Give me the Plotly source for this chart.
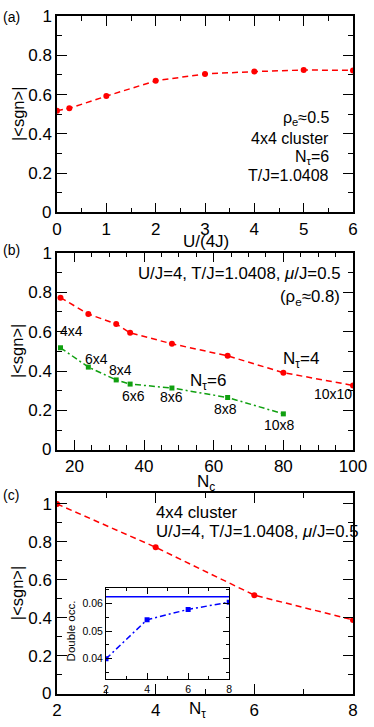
import plotly.graph_objects as go

# Panel (a)
a_x = [0, 0.25, 1, 2, 3, 4, 5, 6]
a_y = [0.518, 0.53, 0.592, 0.67, 0.705, 0.717, 0.725, 0.723]

# Panel (b)
b_nc = [16, 24, 32, 36, 48, 64, 80, 100]
b_red = [0.772, 0.689, 0.638, 0.594, 0.538, 0.477, 0.392, 0.327]
b_nc_green = [16, 24, 32, 36, 48, 64, 80]
b_green = [0.518, 0.42, 0.355, 0.334, 0.314, 0.266, 0.183]
b_labels = ["4x4", "6x4", "8x4", "6x6", "8x6", "8x8", "10x8", "10x10"]
b_label_x = [19.3, 26.3, 33.1, 37.0, 47.8, 63.5, 79.0, 94.2]
b_label_y = [0.603, 0.46, 0.407, 0.274, 0.269, 0.208, 0.128, 0.285]

# Panel (c)
c_nt = [2, 4, 6, 8]
c_sgn = [1.0, 0.772, 0.52, 0.39]
# Inset
ins_nt = [2, 4, 6, 8]
ins_docc = [0.040, 0.0541, 0.0578, 0.0604]
ins_ref = 0.0624

# y tick labels for the |<sgn>| axes (the "0" is drawn separately at the corner)
sgn_tickvals = [0, 0.2, 0.4, 0.6, 0.8, 1]
sgn_ticktext = ["", "0.2", "0.4", "0.6", "0.8", "1"]

RED = "#ff0000"
GREEN = "#10a010"
BLUE = "#0000ff"
FONT = "Liberation Sans, Arial, sans-serif"

L, R, TOP, BOT = 57, 359, 7, 697.5
PW = R - L
PH = BOT - TOP

def px(xp):
    return (xp - L) / PW

def py(yp):
    return (BOT - yp) / PH

fig = go.Figure()

fig.add_trace(go.Scatter(x=a_x, y=a_y, mode="lines+markers", xaxis="x", yaxis="y",
                         line=dict(color=RED, dash="6px,4px", width=1.5),
                         marker=dict(color=RED, size=6, symbol="circle")))
fig.add_trace(go.Scatter(x=b_nc, y=b_red, mode="lines+markers", xaxis="x2", yaxis="y2",
                         line=dict(color=RED, dash="6px,4px", width=1.5),
                         marker=dict(color=RED, size=6, symbol="circle")))
fig.add_trace(go.Scatter(x=b_nc_green, y=b_green, mode="lines+markers", xaxis="x2", yaxis="y2",
                         line=dict(color=GREEN, dash="6px,3px,2px,3px", width=1.5),
                         marker=dict(color=GREEN, size=5, symbol="square")))
fig.add_trace(go.Scatter(x=c_nt, y=c_sgn, mode="lines+markers", xaxis="x3", yaxis="y3",
                         line=dict(color=RED, dash="6px,4px", width=1.5),
                         marker=dict(color=RED, size=6, symbol="circle")))
fig.add_trace(go.Scatter(x=[2, 8], y=[ins_ref, ins_ref], mode="lines", xaxis="x4", yaxis="y4",
                         line=dict(color=BLUE, width=1.5)))
fig.add_trace(go.Scatter(x=ins_nt, y=ins_docc, mode="lines+markers", xaxis="x4", yaxis="y4",
                         line=dict(color=BLUE, dash="6px,3px,2px,3px", width=1.5),
                         marker=dict(color=BLUE, size=5, symbol="square")))

def ax(domain, rng, dtick, minor, anchor, tick0=0, size=17, ticklen=10, mlen=5, lw=1.5):
    return dict(domain=domain, range=rng, anchor=anchor, dtick=dtick, tick0=tick0,
                ticks="inside", ticklen=ticklen, tickwidth=1, tickcolor="black",
                showline=True, linecolor="black", linewidth=lw, mirror="ticks",
                showgrid=False, zeroline=False,
                minor=dict(dtick=minor, tick0=0, ticks="inside", ticklen=mlen,
                           tickcolor="black", showgrid=False),
                tickfont=dict(family=FONT, size=size, color="black"))

def yax(domain, rng, anchor):
    d = ax(domain, rng, 0.2, 0.1, anchor)
    d.update(tickmode="array", tickvals=sgn_tickvals, ticktext=sgn_ticktext)
    return d

ya = [py(207), 1.0]
yb = [py(449), py(248)]
yc = [0.0, py(493.3)]

fig.update_layout(
    width=374, height=727,
    margin=dict(l=L, r=374 - R, t=TOP, b=727 - BOT),
    paper_bgcolor="white", plot_bgcolor="white",
    showlegend=False,
    font=dict(family=FONT, color="black"),
    xaxis=ax([0, 1], [0, 6], 1, 0.5, "y"),
    yaxis=yax(ya, [0, 1], "x"),
    xaxis2=ax([0, 1], [15, 100], 20, 5, "y2"),
    yaxis2=yax(yb, [0, 1], "x2"),
    xaxis3=ax([0, 1], [2, 8], 2, 1, "y3", tick0=2),
    yaxis3=yax(yc, [0, 1.055], "x3"),
    xaxis4=ax([px(107), px(232.7)], [2, 8], 2, 1, "y4", tick0=2, size=10.5, ticklen=6, mlen=3, lw=1),
    yaxis4=ax([py(682.3), py(589.3)], [0.0327, 0.0656], 0.01, 0.005, "x4", tick0=0.04,
              size=10.5, ticklen=6, mlen=3, lw=1),
)

ann = []
def T(text, x, y, xref, yref, xanchor="center", size=16, angle=0):
    ann.append(dict(text=text, x=x, y=y, xref=xref, yref=yref, xanchor=xanchor, yanchor="middle",
                    showarrow=False, textangle=angle,
                    font=dict(family=FONT, size=size, color="black")))

# panel labels
T("(a)", px(0), py(8), "paper", "paper", "left", 14)
T("(b)", px(0), py(245), "paper", "paper", "left", 14)
T("(c)", px(0), py(495), "paper", "paper", "left", 14)

# y = 0 labels at the lower-left corners
for yr in ["y", "y2", "y3"]:
    T("0", px(53), 0, "paper", yr, "right", 17)

# axis titles
for yc_ in [107, 348.5, 595]:
    T("|&lt;sgn&gt;|", px(17), py(yc_), "paper", "paper", "center", 16.5, -90)
T("U/(4J)", px(209), py(237), "paper", "paper", "center", 17)
T("N<sub>c</sub>", px(209), py(483), "paper", "paper", "center", 17)
T("N<sub>τ</sub>", px(200), py(714), "paper", "paper", "center", 17)
T("Double occ.", px(71), py(633), "paper", "paper", "center", 11.5, -90)

# panel a text
T("ρ<sub>e</sub>≈0.5", px(337), py(111), "paper", "paper", "right")
T("4x4 cluster", px(337), py(132), "paper", "paper", "right")
T("N<sub>τ</sub>=6", px(337), py(151), "paper", "paper", "right")
T("T/J=1.0408", px(337), py(169), "paper", "paper", "right")

# panel b text
T("U/J=4, T/J=1.0408, <i>μ</i>/J=0.5", px(348), py(269), "paper", "paper", "right", 16.8)
T("(ρ<sub>e</sub>≈0.8)", px(348), py(294), "paper", "paper", "right", 16.8)
for lbl, xx, yy in zip(b_labels, b_label_x, b_label_y):
    T(lbl, xx, yy, "x2", "y2", "center", 14)
T("N<sub>τ</sub>=4", 85.2, 0.455, "x2", "y2", "center", 17)
T("N<sub>τ</sub>=6", 58.5, 0.342, "x2", "y2", "center", 17)

# panel c text
T("4x4 cluster", px(156), py(512.3), "paper", "paper", "left", 16.8)
T("U/J=4, T/J=1.0408, <i>μ</i>/J=0.5", px(156), py(532.3), "paper", "paper", "left", 16.8)

fig.update_layout(annotations=ann)
fig.write_html("out.html", config={"displayModeBar": False},
               post_script="document.body.style.margin='0px';document.body.style.overflow='hidden';")
